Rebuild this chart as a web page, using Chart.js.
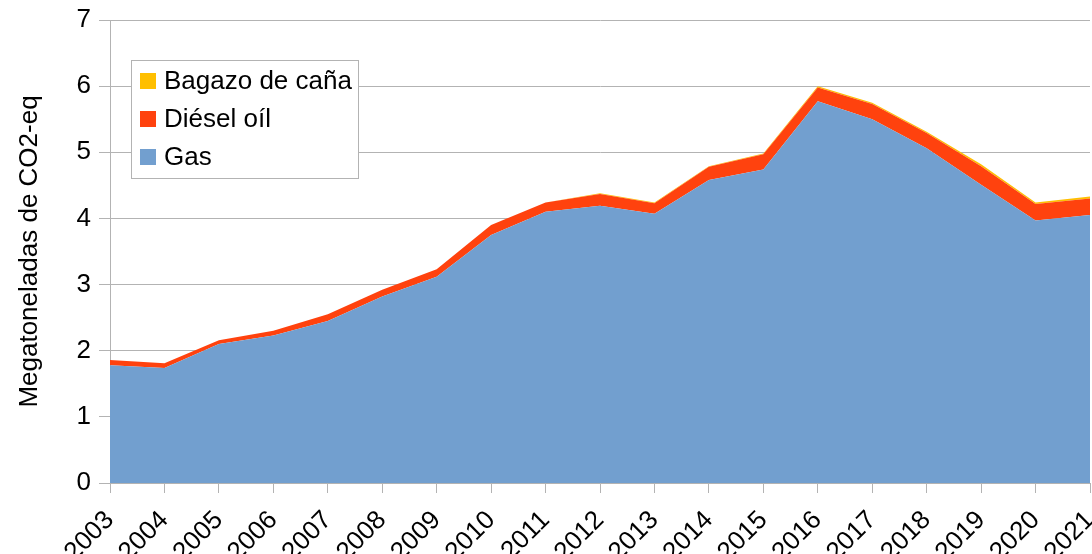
<!DOCTYPE html>
<html>
<head>
<meta charset="utf-8">
<script src="https://cdn.jsdelivr.net/npm/chart.js@4/dist/chart.umd.min.js"></script>
<style>
html,body{margin:0;padding:0;background:#fff;}
#wrap{width:1092px;height:554px;position:relative;}
</style>
</head>
<body>
<div id="wrap"><canvas id="c" width="1092" height="554"></canvas></div>
<script>
const years = ["2003","2004","2005","2006","2007","2008","2009","2010","2011","2012","2013","2014","2015","2016","2017","2018","2019","2020","2021"];
const gas     = [1.78,1.74,2.10,2.23,2.45,2.82,3.12,3.75,4.10,4.19,4.07,4.58,4.74,5.77,5.50,5.06,4.51,3.97,4.05];
const diesel  = [0.08,0.07,0.06,0.07,0.10,0.10,0.11,0.15,0.14,0.18,0.16,0.20,0.23,0.21,0.23,0.23,0.28,0.25,0.25];
const bagazo  = [0.00,0.00,0.00,0.00,0.00,0.00,0.00,0.00,0.00,0.01,0.01,0.01,0.01,0.02,0.02,0.02,0.03,0.02,0.03];
const seriesNames = ["Gas","Diésel oíl","Bagazo de caña"];
const seriesColors = ["#729fcf","#ff420e","#ffbf00"];
const yTitle = "Megatoneladas de CO2-eq";

const FONT = "'Liberation Sans', Arial, sans-serif";

const legendPlugin = {
  id: 'boxLegend',
  afterDraw(chart) {
    const ctx = chart.ctx;
    const x0 = 131, y0 = 60, w = 227, h = 118;
    ctx.save();
    ctx.fillStyle = '#ffffff';
    ctx.fillRect(x0, y0, w, h);
    ctx.strokeStyle = '#b3b3b3';
    ctx.lineWidth = 1;
    ctx.strokeRect(x0 + 0.5, y0 + 0.5, w, h);
    ctx.font = "26px " + FONT;
    ctx.textBaseline = 'middle';
    const ds = chart.data.datasets.slice().reverse();
    ds.forEach((d, i) => {
      const cy = y0 + 21 + i * 38;
      ctx.fillStyle = d.backgroundColor;
      ctx.fillRect(x0 + 9, cy - 8, 16, 16);
      ctx.fillStyle = '#000';
      ctx.fillText(d.label, x0 + 33, cy + 1);
    });
    ctx.restore();
  }
};

const datasets = [gas, diesel, bagazo].map((vals, i) => ({
  label: seriesNames[i],
  data: vals,
  backgroundColor: seriesColors[i],
  borderColor: seriesColors[i],
  borderWidth: 0,
  pointRadius: 0,
  tension: 0,
  fill: i === 0 ? 'origin' : '-1'
}));

new Chart(document.getElementById('c'), {
  type: 'line',
  data: { labels: years, datasets },
  options: {
    responsive: false,
    animation: false,
    layout: { padding: { top: 20, right: 2, left: 0, bottom: 0 } },
    plugins: { legend: { display: false }, tooltip: { enabled: false } },
    scales: {
      x: {
        offset: false,
        afterFit(s) { s.paddingLeft = 0; s.paddingRight = 0; s.height = 71; },
        grid: { display: true, drawOnChartArea: false, color: '#b3b3b3', tickLength: 10 },
        border: { color: '#b3b3b3' },
        ticks: { color: '#000', font: { family: FONT, size: 26 }, minRotation: 45, maxRotation: 45, autoSkip: false, padding: 12 }
      },
      y: {
        stacked: true,
        min: 0, max: 7,
        afterFit(s) { s.paddingTop = 0; s.paddingBottom = 0; s.width = 110; },
        grid: { color: '#b3b3b3', tickLength: 11 },
        border: { color: '#b3b3b3' },
        ticks: { stepSize: 1, color: '#000', font: { family: FONT, size: 26 }, padding: 8 },
        title: { display: true, text: yTitle, color: '#000', font: { family: FONT, size: 26 }, padding: { top: 14, bottom: 0 } }
      }
    }
  },
  plugins: [legendPlugin]
});
</script>
</body>
</html>
